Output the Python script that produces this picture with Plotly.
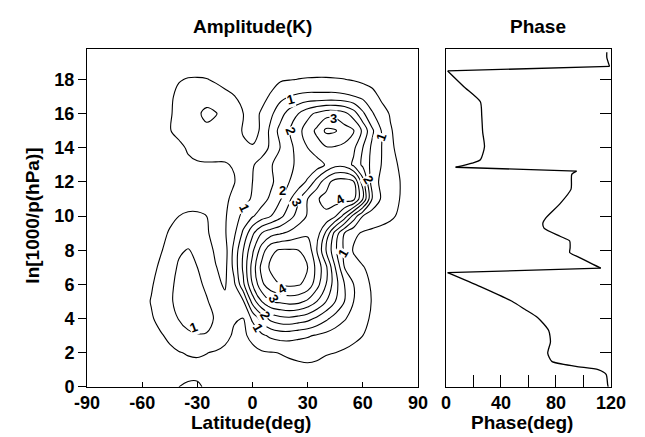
import plotly.graph_objects as go

# ---------------- data ----------------
latitude = [-90, -85, -80, -75, -70, -65, -60, -55, -50,
            -45, -40, -35, -30, -25, -20, -15, -10, -5,
            0, 5, 10, 15, 20, 25, 30, 35, 40,
            45, 50, 55, 60, 65, 70, 75, 80, 85, 90]
height = [0, 1, 2, 3, 4, 5, 6, 7, 8, 9, 10, 11, 12, 13, 14, 15, 16, 17, 18, 19, 20]

# amplitude (K), one row per height level; columns follow `latitude`
amplitude = [
    # z=0
    [0.1, 0.1, 0.1, 0.1, 0.1, 0.1, 0.15, 0.2, 0.25,
     0.35, 0.5, 0.56, 0.55, 0.45, 0.3, 0.22, 0.2, 0.2,
     0.2, 0.22, 0.24, 0.26, 0.28, 0.3, 0.3, 0.3, 0.28,
     0.25, 0.22, 0.2, 0.15, 0.1, 0.1, 0.1, 0.1, 0.1, 0.1],
    # z=1
    [0.1, 0.1, 0.1, 0.1, 0.1, 0.12, 0.15, 0.18, 0.22,
     0.28, 0.33, 0.37, 0.4, 0.38, 0.33, 0.3, 0.28, 0.28,
     0.3, 0.32, 0.35, 0.38, 0.4, 0.42, 0.43, 0.42, 0.4,
     0.37, 0.33, 0.28, 0.22, 0.15, 0.1, 0.1, 0.1, 0.1, 0.1],
    # z=2
    [0.1, 0.1, 0.1, 0.1, 0.12, 0.15, 0.2, 0.25, 0.32,
     0.4, 0.48, 0.53, 0.54, 0.51, 0.46, 0.42, 0.38, 0.36,
     0.38, 0.45, 0.48, 0.51, 0.55, 0.58, 0.6, 0.57, 0.52,
     0.5, 0.46, 0.42, 0.34, 0.22, 0.15, 0.1, 0.1, 0.1, 0.1],
    # z=3
    [0.1, 0.1, 0.1, 0.1, 0.15, 0.2, 0.25, 0.33, 0.45,
     0.6, 0.75, 0.9, 0.97, 0.97, 0.82, 0.6, 0.45, 0.42,
     0.62, 0.9, 1.1, 1.2, 1.2, 1.12, 1.05, 0.95, 0.85,
     0.75, 0.65, 0.57, 0.5, 0.38, 0.25, 0.15, 0.1, 0.1, 0.1],
    # z=4
    [0.1, 0.1, 0.1, 0.12, 0.15, 0.22, 0.3, 0.45, 0.65,
     0.87, 1.02, 1.2, 1.25, 1.15, 0.95, 0.68, 0.53, 0.49,
     1.1, 1.7, 2.15, 2.35, 2.4, 2.3, 2.17, 1.9, 1.6,
     1.3, 1.05, 0.8, 0.6, 0.45, 0.3, 0.18, 0.1, 0.1, 0.1],
    # z=5
    [0.1, 0.1, 0.1, 0.12, 0.15, 0.2, 0.3, 0.53, 0.75,
     0.95, 1.1, 1.25, 1.25, 1.05, 0.8, 0.6, 0.6, 0.95,
     2.2, 3.0, 3.5, 3.6, 3.7, 3.65, 3.4, 3.0, 2.5,
     2.0, 1.5, 1.0, 0.7, 0.48, 0.3, 0.2, 0.12, 0.1, 0.1],
    # z=6
    [0.1, 0.1, 0.1, 0.12, 0.15, 0.2, 0.28, 0.45, 0.7,
     0.92, 1.1, 1.2, 1.12, 0.9, 0.6, 0.45, 0.9, 1.9,
     3.0, 3.9, 4.3, 4.5, 4.6, 4.55, 4.35, 3.7, 3.0,
     2.2, 1.5, 1.0, 0.65, 0.45, 0.3, 0.2, 0.12, 0.1, 0.1],
    # z=7
    [0.1, 0.1, 0.1, 0.1, 0.12, 0.15, 0.22, 0.33, 0.6,
     0.85, 1.05, 1.1, 1.0, 0.75, 0.52, 0.35, 1.15, 2.1,
     3.2, 4.15, 4.6, 4.75, 4.8, 4.72, 4.5, 3.85, 3.1,
     2.0, 1.0, 0.7, 0.52, 0.4, 0.3, 0.2, 0.12, 0.1, 0.1],
    # z=8
    [0.1, 0.1, 0.1, 0.1, 0.1, 0.12, 0.18, 0.25, 0.45,
     0.7, 0.95, 1.02, 0.92, 0.7, 0.42, 0.3, 1.15, 2.0,
     2.9, 3.75, 4.4, 4.55, 4.55, 4.5, 4.35, 3.5, 2.5,
     1.6, 0.9, 0.45, 0.35, 0.3, 0.25, 0.2, 0.12, 0.1, 0.1],
    # z=9
    [0.1, 0.1, 0.1, 0.1, 0.1, 0.1, 0.15, 0.2, 0.35,
     0.55, 0.72, 0.78, 0.72, 0.55, 0.35, 0.45, 0.9, 1.6,
     2.4, 3.0, 3.3, 3.45, 3.6, 3.8, 3.9, 3.75, 2.9,
     1.8, 1.0, 0.6, 0.45, 0.42, 0.4, 0.35, 0.2, 0.1, 0.1],
    # z=10
    [0.1, 0.1, 0.1, 0.1, 0.1, 0.1, 0.12, 0.15, 0.25,
     0.38, 0.5, 0.56, 0.56, 0.5, 0.3, 0.45, 0.75, 1.15,
     1.45, 1.75, 2.0, 2.35, 2.8, 3.2, 3.55, 3.8, 3.9,
     3.55, 2.8, 1.8, 1.0, 0.72, 0.62, 0.56, 0.45, 0.15, 0.1],
    # z=11
    [0.1, 0.1, 0.1, 0.1, 0.1, 0.1, 0.1, 0.12, 0.18,
     0.25, 0.3, 0.32, 0.32, 0.3, 0.3, 0.42, 0.6, 0.85,
     1.05, 1.3, 1.6, 1.95, 2.4, 2.95, 3.5, 3.95, 4.15,
     4.25, 4.25, 4.15, 3.0, 1.5, 0.95, 0.7, 0.5, 0.15, 0.1],
    # z=12
    [0.1, 0.1, 0.1, 0.1, 0.1, 0.1, 0.1, 0.12, 0.15,
     0.2, 0.25, 0.28, 0.3, 0.32, 0.35, 0.42, 0.48, 0.72,
     1.0, 1.15, 1.4, 1.75, 2.0, 2.2, 2.6, 3.2, 3.8,
     4.2, 4.25, 4.05, 2.7, 1.25, 0.9, 0.65, 0.52, 0.15, 0.1],
    # z=13
    [0.1, 0.1, 0.1, 0.1, 0.1, 0.1, 0.12, 0.15, 0.2,
     0.28, 0.35, 0.42, 0.46, 0.47, 0.47, 0.48, 0.52, 0.75,
     0.95, 1.2, 1.45, 1.75, 1.95, 2.05, 2.1, 2.25, 2.55,
     2.85, 2.85, 2.4, 1.9, 1.35, 1.0, 0.68, 0.45, 0.15, 0.1],
    # z=14
    [0.1, 0.1, 0.1, 0.1, 0.1, 0.12, 0.15, 0.22, 0.3,
     0.35, 0.4, 0.55, 0.63, 0.65, 0.64, 0.6, 0.57, 0.54,
     0.53, 0.75, 1.1, 1.5, 1.85, 2.2, 2.5, 2.8, 2.95,
     2.95, 2.92, 2.6, 2.0, 1.4, 1.02, 0.6, 0.35, 0.12, 0.1],
    # z=15
    [0.1, 0.1, 0.1, 0.1, 0.1, 0.12, 0.18, 0.25, 0.35,
     0.48, 0.62, 0.74, 0.82, 0.88, 0.82, 0.72, 0.6, 0.48,
     0.38, 0.55, 1.15, 1.65, 1.98, 2.35, 2.75, 3.1, 3.6,
     3.55, 3.2, 3.02, 2.4, 1.6, 1.0, 0.55, 0.3, 0.12, 0.1],
    # z=16
    [0.1, 0.1, 0.1, 0.1, 0.1, 0.12, 0.15, 0.22, 0.3,
     0.45, 0.65, 0.82, 0.92, 1.12, 1.03, 0.82, 0.65, 0.5,
     0.35, 0.55, 0.9, 1.3, 1.7, 2.0, 2.35, 2.6, 2.8,
     2.8, 2.65, 2.25, 1.6, 1.05, 0.75, 0.45, 0.25, 0.12, 0.1],
    # z=17
    [0.1, 0.1, 0.1, 0.1, 0.1, 0.1, 0.12, 0.18, 0.25,
     0.42, 0.62, 0.72, 0.76, 0.78, 0.72, 0.62, 0.52, 0.35,
     0.28, 0.38, 0.55, 0.85, 1.0, 1.1, 1.15, 1.15, 1.15,
     1.15, 1.1, 1.02, 0.88, 0.72, 0.4, 0.3, 0.18, 0.1, 0.1],
    # z=18
    [0.1, 0.1, 0.1, 0.1, 0.1, 0.1, 0.1, 0.12, 0.18,
     0.28, 0.47, 0.53, 0.54, 0.52, 0.44, 0.35, 0.25, 0.2,
     0.2, 0.25, 0.35, 0.44, 0.48, 0.51, 0.53, 0.54, 0.54,
     0.53, 0.51, 0.46, 0.38, 0.28, 0.2, 0.15, 0.1, 0.1, 0.1],
    # z=19
    [0.1, 0.1, 0.1, 0.1, 0.1, 0.1, 0.1, 0.1, 0.1,
     0.15, 0.2, 0.22, 0.22, 0.2, 0.15, 0.12, 0.1, 0.1,
     0.1, 0.12, 0.15, 0.18, 0.2, 0.22, 0.22, 0.22, 0.22,
     0.2, 0.18, 0.15, 0.12, 0.1, 0.1, 0.1, 0.1, 0.1, 0.1],
    # z=20
    [0.1] * 37,
]

# contour labels (value text, latitude, height, angle)
label_text = ["1", "3", "2", "1", "2", "2", "3", "4", "1", "1", "4", "3", "2", "1", "1"]
label_lat = [20.6, 44, 20.6, 70, 63, 16.3, 24.1, 47.5, -4.5, 49.3, 16.3, 11.4, 6.8, 2.8, -32.3]
label_z = [16.8, 15.7, 15.0, 14.6, 12.15, 11.5, 10.8, 11.0, 10.5, 7.8, 5.77, 5.17, 4.15, 3.45, 3.49]
label_angle = [-15, 0, 70, -70, 60, 0, 60, -30, 65, -60, -30, 60, 60, 60, -20]

# phase profile
phase_height = [0.0, 0.15, 0.73, 1.01, 1.2, 1.49, 1.97, 2.63, 3.3, 4.06, 4.54, 5.01, 5.87,
                6.69, 6.95, 7.58, 7.87, 8.15, 8.54, 8.82, 9.3, 9.6, 9.87, 10.73, 11.58,
                12.44, 12.63, 12.86, 13.1, 13.3, 14.06, 14.9, 15.87, 16.7, 17.58, 18.5,
                18.77, 19.3, 19.6]
phase_deg = [118, 117.6, 116.5, 110.7, 94.5, 77, 74, 76, 74.7, 66.6, 57.3, 48, 25,
             1.2, 112.6, 96.8, 90, 90.3, 90, 83, 71.3, 70.5, 72.4, 83, 91,
             91.5, 95, 7, 19, 25, 28, 26.7, 26, 25, 13, 1.2,
             119, 117, 117]

lat_ticks = [-90, -60, -30, 0, 30, 60, 90]
lat_ticktext = ["-90", "-60", "-30", "0", "30", "60", "90"]
z_ticks = [0, 2, 4, 6, 8, 10, 12, 14, 16, 18]
phase_ticks = [0, 20, 40, 60, 80, 100, 120]
phase_ticktext = ["0", "", "40", "", "80", "", "120"]

# ---------------- figure ----------------
W, H = 645, 437
FONT = "Liberation Sans"

fig = go.Figure()
fig.add_trace(go.Contour(
    x=latitude, y=height, z=amplitude,
    contours=dict(start=0.5, end=4.5, size=0.5, coloring="none", showlabels=False),
    line=dict(color="black", width=1.1, smoothing=1.0),
    showscale=False, hoverinfo="skip",
    xaxis="x", yaxis="y",
))

# phase: smooth pieces joined by straight wrap-around jumps
breaks = [0]
for i in range(1, len(phase_deg)):
    if abs(phase_deg[i] - phase_deg[i - 1]) > 60:
        breaks.append(i)
breaks.append(len(phase_deg))
for a, b in zip(breaks[:-1], breaks[1:]):
    fig.add_trace(go.Scatter(
        x=phase_deg[a:b], y=phase_height[a:b], mode="lines",
        line=dict(color="black", width=1.3, shape="spline", smoothing=0.6),
        xaxis="x2", yaxis="y2", showlegend=False, hoverinfo="skip"))
    if b < len(phase_deg):
        fig.add_trace(go.Scatter(
            x=phase_deg[b - 1:b + 1], y=phase_height[b - 1:b + 1], mode="lines",
            line=dict(color="black", width=1.3),
            xaxis="x2", yaxis="y2", showlegend=False, hoverinfo="skip"))

yd = [(H - 387.7) / H, (H - 41.7) / H]
tickfont = dict(family=FONT, size=18, color="black", weight="bold")

fig.update_layout(
    width=W, height=H,
    margin=dict(l=0, r=0, t=0, b=0),
    paper_bgcolor="white", plot_bgcolor="white",
    showlegend=False,
    xaxis=dict(domain=[69 / W, 415 / W], range=[-90, 90], tickvals=lat_ticks,
               ticktext=lat_ticktext,
               ticks="inside", ticklen=5, tickwidth=1, tickcolor="black",
               showline=True, linecolor="black", linewidth=1, mirror=True,
               showgrid=False, zeroline=False, tickfont=tickfont, anchor="y"),
    yaxis=dict(domain=yd, range=[0, 19.8], tickvals=z_ticks,
               ticks="outside", ticklen=8, tickwidth=1, tickcolor="black",
               showline=True, linecolor="black", linewidth=1, mirror=True,
               showgrid=False, zeroline=False, tickfont=tickfont, anchor="x"),
    xaxis2=dict(domain=[444.3 / W, 616.7 / W], range=[0, 120], tickvals=phase_ticks,
                ticktext=phase_ticktext,
                ticks="inside", ticklen=12, tickwidth=1, tickcolor="black",
                showline=True, linecolor="black", linewidth=1, mirror=True,
                showgrid=False, zeroline=False, tickfont=tickfont, anchor="y2"),
    yaxis2=dict(domain=yd, range=[0, 19.8], tickvals=z_ticks[1:], side="right",
                ticks="inside", ticklen=11, tickwidth=1, tickcolor="black",
                showticklabels=False,
                showline=True, linecolor="black", linewidth=1, mirror=True,
                showgrid=False, zeroline=False, anchor="x2"),
)

title_font = dict(family=FONT, size=19, color="black", weight="bold")
ann = [
    dict(text="Amplitude(K)", x=242 / W, y=(H - 19) / H, xref="paper", yref="paper",
         showarrow=False, font=title_font, xanchor="center", yanchor="middle"),
    dict(text="Phase", x=540 / W, y=(H - 19) / H, xref="paper", yref="paper",
         showarrow=False, font=title_font, xanchor="center", yanchor="middle"),
    dict(text="Latitude(deg)", x=240 / W, y=(H - 424) / H, xref="paper", yref="paper",
         showarrow=False, font=title_font, xanchor="center", yanchor="middle"),
    dict(text="Phase(deg)", x=524 / W, y=(H - 424) / H, xref="paper", yref="paper",
         showarrow=False, font=title_font, xanchor="center", yanchor="middle"),
    dict(text="ln[1000/p(hPa)]", x=12 / W, y=(H - 212) / H, xref="paper", yref="paper",
         showarrow=False, font=title_font, textangle=-90, xanchor="center", yanchor="middle"),
]
for t, la, zz, ang in zip(label_text, label_lat, label_z, label_angle):
    ann.append(dict(text=t, x=la, y=zz, xref="x", yref="y", showarrow=False,
                    textangle=ang, bgcolor="white", borderpad=0,
                    font=dict(family=FONT, size=13, color="black", weight="bold")))
fig.update_layout(annotations=ann)

fig.write_html("out.html")
